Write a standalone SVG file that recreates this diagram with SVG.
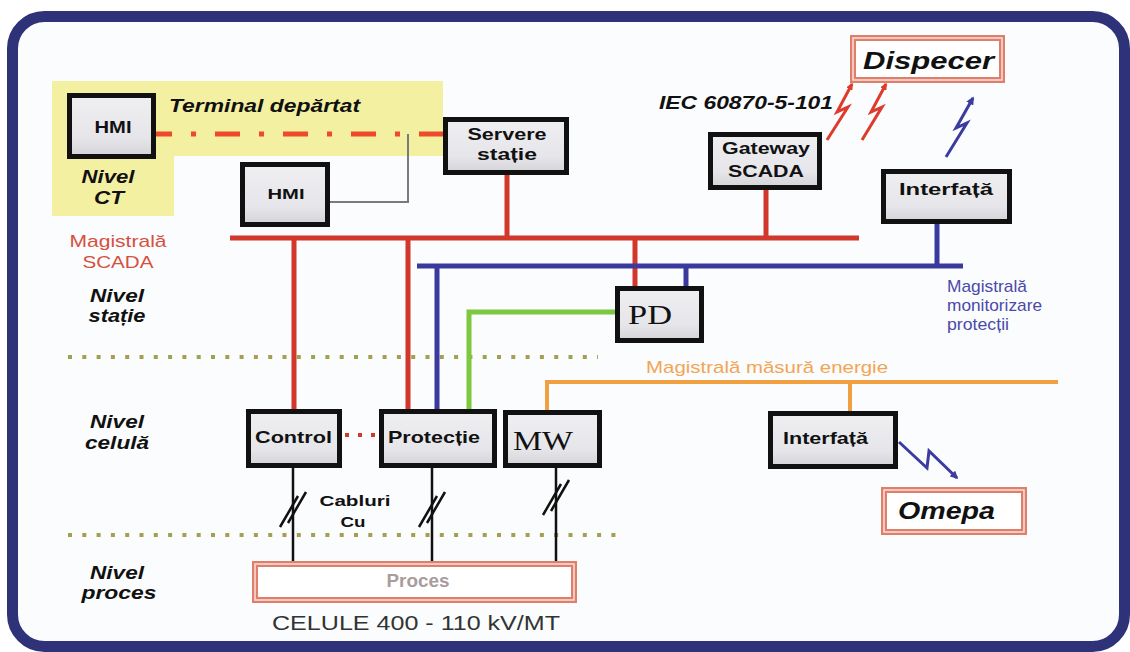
<svg xmlns="http://www.w3.org/2000/svg" width="1130" height="652" viewBox="0 0 1130 652">
<defs>
<linearGradient id="boxfill" x1="0" y1="0" x2="0" y2="1">
<stop offset="0" stop-color="#efeff2"/>
<stop offset="0.7" stop-color="#e6e6ea"/>
<stop offset="1" stop-color="#d3d3d8"/>
</linearGradient>
<marker id="arrR" viewBox="0 0 10 10" refX="8" refY="5" markerWidth="7" markerHeight="7" markerUnits="userSpaceOnUse" orient="auto">
<path d="M0,0 L10,5 L0,10 z" fill="#dd3b2b"/>
</marker>
<marker id="arrB" viewBox="0 0 10 10" refX="8" refY="5" markerWidth="8" markerHeight="8" markerUnits="userSpaceOnUse" orient="auto">
<path d="M0,0 L10,5 L0,10 z" fill="#3b3ba0"/>
</marker>
<style>
.box{fill:url(#boxfill);stroke:#111;stroke-width:5}
.dbl{fill:#fff;stroke:#df7f6b;stroke-width:6}
.dblin{fill:none;stroke:#fae2da;stroke-width:1.5}
.t{font-family:"Liberation Sans",Arial,sans-serif;font-weight:bold;font-size:17px;fill:#111;text-anchor:middle}
.bi{font-style:italic}
.reg{font-weight:normal}
.ser{font-family:"Liberation Serif","Times New Roman",serif;font-weight:normal;font-size:28px;fill:#111;text-anchor:middle}
.st{text-anchor:start}
.red{stroke:#d2372c;stroke-width:5;fill:none}
.blue{stroke:#3a3a9e;stroke-width:5;fill:none}
.green{stroke:#7cc83e;stroke-width:5;fill:none}
.orange{stroke:#f0a040;stroke-width:4;fill:none}
.blk{stroke:#111;stroke-width:2.5;fill:none}
.olive{stroke:#a3a050;stroke-width:4;stroke-dasharray:4 10.3;fill:none}
.boltR{stroke:#dd3b2b;stroke-width:3;fill:none;stroke-linejoin:miter}
.boltB{stroke:#3b3ba0;stroke-width:3;fill:none;stroke-linejoin:miter}
</style>
</defs>

<rect x="0" y="0" width="1130" height="652" fill="#ffffff"/>
<rect id="frame" x="12.5" y="16.5" width="1112" height="630" rx="32" fill="#fbfcfd" stroke="#2e3278" stroke-width="11"/>

<polygon id="zone-ct" points="52,81 443,81 443,156 174,156 174,216 52,216" fill="#f4f0a2"/>

<g id="levels">
<line class="olive" x1="68" y1="357" x2="598" y2="357"/>
<line class="olive" x1="68" y1="535" x2="625" y2="535"/>
</g>

<g id="connectors">
<line x1="156" y1="134" x2="443" y2="134" stroke="#ec4a2a" stroke-width="5" stroke-dasharray="25 19 5 19" stroke-dashoffset="9"/>
<polyline points="330,202 408,202 408,134" fill="none" stroke="#7a7a7a" stroke-width="2"/>
<line class="red" x1="230" y1="238" x2="859" y2="238"/>
<line class="red" x1="294" y1="238" x2="294" y2="409"/>
<line class="red" x1="408" y1="238" x2="408" y2="409"/>
<line class="red" x1="507" y1="175" x2="507" y2="238"/>
<line class="red" x1="635" y1="238" x2="635" y2="286"/>
<line class="red" x1="766" y1="190" x2="766" y2="238"/>
<line class="blue" x1="417" y1="266" x2="963" y2="266"/>
<line class="blue" x1="437" y1="266" x2="437" y2="409"/>
<line class="blue" x1="686" y1="266" x2="686" y2="286"/>
<line class="blue" x1="937" y1="224" x2="937" y2="266"/>
<polyline class="green" points="615,312 469,312 469,409"/>
<line class="orange" x1="545" y1="382" x2="1058" y2="382"/>
<line class="orange" x1="547" y1="382" x2="547" y2="410"/>
<line class="orange" x1="850" y1="382" x2="850" y2="411"/>
<line x1="345" y1="435" x2="378" y2="435" stroke="#d2372c" stroke-width="4" stroke-dasharray="4 9"/>
<line class="blk" x1="293" y1="468" x2="293" y2="561"/>
<line class="blk" x1="432" y1="468" x2="432" y2="561"/>
<line class="blk" x1="556" y1="468" x2="556" y2="561"/>
<path class="blk" d="M306,492 L288,523 M298,496 L280,527"/>
<path class="blk" d="M445,492 L427,523 M437,496 L419,527"/>
<path class="blk" d="M569,480 L551,511 M561,484 L543,515"/>
<path class="boltR" d="M827,140 L848,107 L837,112 L852,84" marker-end="url(#arrR)"/>
<path class="boltR" d="M862,140 L882,107 L871,112 L886,84" marker-end="url(#arrR)"/>
<path class="boltB" d="M946,157 L967,123 L956,128 L973,98" marker-end="url(#arrB)"/>
<path class="boltB" d="M899,442 L927,468 L929,451 L957,478" marker-end="url(#arrB)"/>
</g>

<g id="node-hmi-ct">
<rect class="box" x="69.5" y="95.5" width="84" height="61"/>
<text class="t" x="113" y="133" textLength="37" lengthAdjust="spacingAndGlyphs">HMI</text>
</g>
<g id="node-hmi">
<rect class="box" x="242.5" y="164.5" width="85" height="60"/>
<text class="t" x="286" y="199" style="font-size:15px" textLength="37" lengthAdjust="spacingAndGlyphs">HMI</text>
</g>
<g id="node-servere">
<rect class="box" x="445.5" y="119.5" width="121" height="53"/>
<text class="t" x="507" y="140" textLength="79" lengthAdjust="spacingAndGlyphs">Servere</text>
<text class="t" x="507" y="160" textLength="60" lengthAdjust="spacingAndGlyphs">stație</text>
</g>
<g id="node-gateway">
<rect class="box" x="710.5" y="134.5" width="109" height="53"/>
<text class="t" x="766" y="154" textLength="88" lengthAdjust="spacingAndGlyphs">Gateway</text>
<text class="t" x="766" y="177" textLength="76" lengthAdjust="spacingAndGlyphs">SCADA</text>
</g>
<g id="node-dispecer">
<rect class="dbl" x="853" y="38" width="149" height="42"/>
<rect class="dblin" x="853" y="38" width="149" height="42"/>
<text class="t bi" x="928.5" y="69" style="font-size:23px" textLength="131" lengthAdjust="spacingAndGlyphs">Dispecer</text>
</g>
<g id="node-interfata-1">
<rect class="box" x="883.5" y="171.5" width="126" height="50"/>
<text class="t" x="946" y="195" textLength="94" lengthAdjust="spacingAndGlyphs">Interfață</text>
</g>
<g id="node-pd">
<rect class="box" x="617.5" y="288.5" width="84" height="52"/>
<text class="ser" x="650" y="324" textLength="44" lengthAdjust="spacingAndGlyphs">PD</text>
</g>
<g id="node-control">
<rect class="box" x="248.5" y="411.5" width="91" height="54"/>
<text class="t" x="293.5" y="443" textLength="77" lengthAdjust="spacingAndGlyphs">Control</text>
</g>
<g id="node-protectie">
<rect class="box" x="381.5" y="411.5" width="113" height="54"/>
<text class="t" x="434" y="443" textLength="92" lengthAdjust="spacingAndGlyphs">Protecție</text>
</g>
<g id="node-mw">
<rect class="box" x="505.5" y="412.5" width="94" height="53"/>
<text class="ser" x="543" y="450" textLength="60" lengthAdjust="spacingAndGlyphs">MW</text>
</g>
<g id="node-interfata-2">
<rect class="box" x="770.5" y="413.5" width="125" height="53"/>
<text class="t" x="825.5" y="444" style="font-size:16px" textLength="85" lengthAdjust="spacingAndGlyphs">Interfață</text>
</g>
<g id="node-omepa">
<rect class="dbl" x="884" y="490" width="140" height="42"/>
<rect class="dblin" x="884" y="490" width="140" height="42"/>
<text class="t bi" x="946.5" y="519" style="font-size:23px" textLength="97" lengthAdjust="spacingAndGlyphs">Omepa</text>
</g>
<g id="node-proces">
<rect class="dbl" x="255" y="564" width="319" height="36"/>
<rect class="dblin" x="255" y="564" width="319" height="36"/>
<text class="t" x="418" y="587" style="font-size:18px;fill:#a99c9c" textLength="63" lengthAdjust="spacingAndGlyphs">Proces</text>
</g>

<g id="labels">
<text class="t bi st" x="169" y="112" style="font-size:19px" textLength="191" lengthAdjust="spacingAndGlyphs">Terminal depărtat</text>
<text class="t bi" x="108" y="183" style="font-size:19px" textLength="53" lengthAdjust="spacingAndGlyphs">Nivel</text>
<text class="t bi" x="109" y="204" style="font-size:19px" textLength="30" lengthAdjust="spacingAndGlyphs">CT</text>
<text class="t reg" x="118" y="247" style="fill:#d5503f" textLength="97" lengthAdjust="spacingAndGlyphs">Magistrală</text>
<text class="t reg" x="118" y="268" style="fill:#d5503f" textLength="71" lengthAdjust="spacingAndGlyphs">SCADA</text>
<text class="t bi" x="117" y="302" style="font-size:19px" textLength="54" lengthAdjust="spacingAndGlyphs">Nivel</text>
<text class="t bi" x="117" y="322" style="font-size:19px" textLength="57" lengthAdjust="spacingAndGlyphs">stație</text>
<text class="t bi" x="117" y="428" style="font-size:19px" textLength="54" lengthAdjust="spacingAndGlyphs">Nivel</text>
<text class="t bi" x="117" y="449" style="font-size:19px" textLength="64" lengthAdjust="spacingAndGlyphs">celulă</text>
<text class="t bi" x="117" y="579" style="font-size:19px" textLength="54" lengthAdjust="spacingAndGlyphs">Nivel</text>
<text class="t bi" x="119" y="599" style="font-size:19px" textLength="75" lengthAdjust="spacingAndGlyphs">proces</text>
<text class="t bi st" x="659" y="109" style="font-size:18px" textLength="174" lengthAdjust="spacingAndGlyphs">IEC 60870-5-101</text>
<text class="t reg st" x="947" y="292" style="fill:#4a4aa8" textLength="80" lengthAdjust="spacingAndGlyphs">Magistrală</text>
<text class="t reg st" x="947" y="311" style="fill:#4a4aa8" textLength="95" lengthAdjust="spacingAndGlyphs">monitorizare</text>
<text class="t reg st" x="947" y="330" style="fill:#4a4aa8" textLength="62" lengthAdjust="spacingAndGlyphs">protecții</text>
<text class="t reg st" x="646" y="373" style="fill:#f2a555" textLength="242" lengthAdjust="spacingAndGlyphs">Magistrală măsură energie</text>
<text class="t" x="355" y="506" style="font-size:15px" textLength="71" lengthAdjust="spacingAndGlyphs">Cabluri</text>
<text class="t" x="353" y="527" style="font-size:15px" textLength="25" lengthAdjust="spacingAndGlyphs">Cu</text>
<text class="t reg st" x="272" y="630" style="font-size:20px;fill:#333" textLength="288" lengthAdjust="spacingAndGlyphs">CELULE 400 - 110 kV/MT</text>
</g>
</svg>
